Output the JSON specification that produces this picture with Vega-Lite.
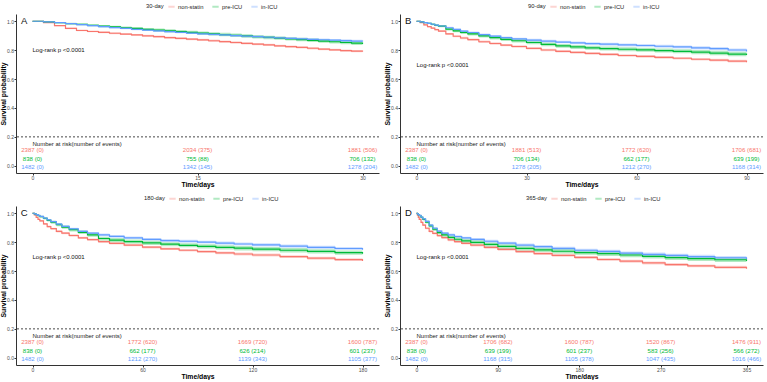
{
  "$schema": "https://vega.github.io/schema/vega-lite/v6.json",
  "padding": {"left": 0, "top": 2, "right": 0, "bottom": 0},
  "background": "white",
  "config": {
    "font": "Liberation Sans",
    "view": {"stroke": null},
    "axis": {
      "grid": false,
      "domainColor": "#333333",
      "domainWidth": 1,
      "tickColor": "#333333",
      "tickSize": 2,
      "labelColor": "#4D4D4D",
      "labelFontSize": 5,
      "labelPadding": 1,
      "labelOverlap": false,
      "titleFontSize": 6.8,
      "titleFontWeight": "bold",
      "titleColor": "#000000"
    },
    "axisX": {"titlePadding": 0.5, "labelPadding": 0.5},
    "axisY": {"titlePadding": 0, "labelPadding": 0.5, "labelFlush": false},
    "legend": {
      "orient": "none",
      "direction": "horizontal",
      "titleOrient": "left",
      "titleFontSize": 5.8,
      "titleFontWeight": "normal",
      "titleColor": "#222222",
      "titlePadding": 3,
      "labelFontSize": 5.8,
      "labelColor": "#222222",
      "labelOffset": 2,
      "symbolType": "stroke",
      "symbolStrokeWidth": 2,
      "symbolSize": 40,
      "columnPadding": 4
    },
    "text": {"font": "Liberation Sans"}
  },
  "datasets": {
    "panels": [
      {"p": "A", "tag": "A", "lr": "Log-rank p <0.0001", "head": "Number at risk(number of events)"},
      {"p": "B", "tag": "B", "lr": "Log-rank p <0.0001", "head": "Number at risk(number of events)"},
      {"p": "C", "tag": "C", "lr": "Log-rank p <0.0001", "head": "Number at risk(number of events)"},
      {"p": "D", "tag": "D", "lr": "Log-rank p <0.0001", "head": "Number at risk(number of events)"}
    ],
    "risk": [
      {"p": "A", "g": "non-statin", "t": 0, "n": "2387 (0)"},
      {"p": "A", "g": "pre-ICU", "t": 0, "n": "838 (0)"},
      {"p": "A", "g": "in-ICU", "t": 0, "n": "1482 (0)"},
      {"p": "A", "g": "non-statin", "t": 15, "n": "2034 (375)"},
      {"p": "A", "g": "pre-ICU", "t": 15, "n": "755 (88)"},
      {"p": "A", "g": "in-ICU", "t": 15, "n": "1342 (145)"},
      {"p": "A", "g": "non-statin", "t": 30, "n": "1881 (506)"},
      {"p": "A", "g": "pre-ICU", "t": 30, "n": "706 (132)"},
      {"p": "A", "g": "in-ICU", "t": 30, "n": "1278 (204)"},
      {"p": "B", "g": "non-statin", "t": 0, "n": "2387 (0)"},
      {"p": "B", "g": "pre-ICU", "t": 0, "n": "838 (0)"},
      {"p": "B", "g": "in-ICU", "t": 0, "n": "1482 (0)"},
      {"p": "B", "g": "non-statin", "t": 30, "n": "1881 (513)"},
      {"p": "B", "g": "pre-ICU", "t": 30, "n": "706 (134)"},
      {"p": "B", "g": "in-ICU", "t": 30, "n": "1278 (205)"},
      {"p": "B", "g": "non-statin", "t": 60, "n": "1772 (620)"},
      {"p": "B", "g": "pre-ICU", "t": 60, "n": "662 (177)"},
      {"p": "B", "g": "in-ICU", "t": 60, "n": "1212 (270)"},
      {"p": "B", "g": "non-statin", "t": 90, "n": "1706 (681)"},
      {"p": "B", "g": "pre-ICU", "t": 90, "n": "639 (199)"},
      {"p": "B", "g": "in-ICU", "t": 90, "n": "1168 (314)"},
      {"p": "C", "g": "non-statin", "t": 0, "n": "2387 (0)"},
      {"p": "C", "g": "pre-ICU", "t": 0, "n": "838 (0)"},
      {"p": "C", "g": "in-ICU", "t": 0, "n": "1482 (0)"},
      {"p": "C", "g": "non-statin", "t": 60, "n": "1772 (620)"},
      {"p": "C", "g": "pre-ICU", "t": 60, "n": "662 (177)"},
      {"p": "C", "g": "in-ICU", "t": 60, "n": "1212 (270)"},
      {"p": "C", "g": "non-statin", "t": 120, "n": "1669 (720)"},
      {"p": "C", "g": "pre-ICU", "t": 120, "n": "626 (214)"},
      {"p": "C", "g": "in-ICU", "t": 120, "n": "1139 (343)"},
      {"p": "C", "g": "non-statin", "t": 180, "n": "1600 (787)"},
      {"p": "C", "g": "pre-ICU", "t": 180, "n": "601 (237)"},
      {"p": "C", "g": "in-ICU", "t": 180, "n": "1105 (377)"},
      {"p": "D", "g": "non-statin", "t": 0, "n": "2387 (0)"},
      {"p": "D", "g": "pre-ICU", "t": 0, "n": "838 (0)"},
      {"p": "D", "g": "in-ICU", "t": 0, "n": "1482 (0)"},
      {"p": "D", "g": "non-statin", "t": 90, "n": "1706 (682)"},
      {"p": "D", "g": "pre-ICU", "t": 90, "n": "639 (199)"},
      {"p": "D", "g": "in-ICU", "t": 90, "n": "1168 (315)"},
      {"p": "D", "g": "non-statin", "t": 180, "n": "1600 (787)"},
      {"p": "D", "g": "pre-ICU", "t": 180, "n": "601 (237)"},
      {"p": "D", "g": "in-ICU", "t": 180, "n": "1105 (378)"},
      {"p": "D", "g": "non-statin", "t": 270, "n": "1520 (867)"},
      {"p": "D", "g": "pre-ICU", "t": 270, "n": "583 (256)"},
      {"p": "D", "g": "in-ICU", "t": 270, "n": "1047 (435)"},
      {"p": "D", "g": "non-statin", "t": 365, "n": "1476 (911)"},
      {"p": "D", "g": "pre-ICU", "t": 365, "n": "566 (272)"},
      {"p": "D", "g": "in-ICU", "t": 365, "n": "1016 (466)"}
    ],
    "km": [
      {"p":"A","g":"non-statin","t":0,"s":1,"lo":1,"hi":1},
      {"p":"A","g":"non-statin","t":1,"s":0.990,"lo":0.987,"hi":0.993},
      {"p":"A","g":"non-statin","t":2,"s":0.970,"lo":0.966,"hi":0.974},
      {"p":"A","g":"non-statin","t":3,"s":0.950,"lo":0.945,"hi":0.955},
      {"p":"A","g":"non-statin","t":4,"s":0.936,"lo":0.930,"hi":0.942},
      {"p":"A","g":"non-statin","t":5,"s":0.929,"lo":0.923,"hi":0.935},
      {"p":"A","g":"non-statin","t":6,"s":0.923,"lo":0.916,"hi":0.930},
      {"p":"A","g":"non-statin","t":7,"s":0.917,"lo":0.910,"hi":0.924},
      {"p":"A","g":"non-statin","t":8,"s":0.911,"lo":0.904,"hi":0.918},
      {"p":"A","g":"non-statin","t":9,"s":0.905,"lo":0.898,"hi":0.912},
      {"p":"A","g":"non-statin","t":10,"s":0.899,"lo":0.892,"hi":0.906},
      {"p":"A","g":"non-statin","t":11,"s":0.893,"lo":0.885,"hi":0.901},
      {"p":"A","g":"non-statin","t":12,"s":0.887,"lo":0.879,"hi":0.895},
      {"p":"A","g":"non-statin","t":13,"s":0.882,"lo":0.874,"hi":0.890},
      {"p":"A","g":"non-statin","t":14,"s":0.876,"lo":0.868,"hi":0.884},
      {"p":"A","g":"non-statin","t":15,"s":0.871,"lo":0.863,"hi":0.879},
      {"p":"A","g":"non-statin","t":16,"s":0.865,"lo":0.857,"hi":0.873},
      {"p":"A","g":"non-statin","t":17,"s":0.859,"lo":0.851,"hi":0.867},
      {"p":"A","g":"non-statin","t":18,"s":0.853,"lo":0.845,"hi":0.861},
      {"p":"A","g":"non-statin","t":19,"s":0.847,"lo":0.839,"hi":0.855},
      {"p":"A","g":"non-statin","t":20,"s":0.842,"lo":0.834,"hi":0.850},
      {"p":"A","g":"non-statin","t":21,"s":0.836,"lo":0.828,"hi":0.844},
      {"p":"A","g":"non-statin","t":22,"s":0.830,"lo":0.822,"hi":0.838},
      {"p":"A","g":"non-statin","t":23,"s":0.824,"lo":0.816,"hi":0.832},
      {"p":"A","g":"non-statin","t":24,"s":0.819,"lo":0.811,"hi":0.827},
      {"p":"A","g":"non-statin","t":25,"s":0.813,"lo":0.805,"hi":0.821},
      {"p":"A","g":"non-statin","t":26,"s":0.807,"lo":0.799,"hi":0.815},
      {"p":"A","g":"non-statin","t":27,"s":0.802,"lo":0.794,"hi":0.810},
      {"p":"A","g":"non-statin","t":28,"s":0.797,"lo":0.789,"hi":0.805},
      {"p":"A","g":"non-statin","t":29,"s":0.793,"lo":0.785,"hi":0.801},
      {"p":"A","g":"non-statin","t":30,"s":0.788,"lo":0.780,"hi":0.796},
      {"p":"A","g":"pre-ICU","t":0,"s":1,"lo":1,"hi":1},
      {"p":"A","g":"pre-ICU","t":1,"s":0.995,"lo":0.992,"hi":0.998},
      {"p":"A","g":"pre-ICU","t":2,"s":0.990,"lo":0.986,"hi":0.994},
      {"p":"A","g":"pre-ICU","t":3,"s":0.984,"lo":0.979,"hi":0.989},
      {"p":"A","g":"pre-ICU","t":4,"s":0.978,"lo":0.972,"hi":0.984},
      {"p":"A","g":"pre-ICU","t":5,"s":0.972,"lo":0.965,"hi":0.979},
      {"p":"A","g":"pre-ICU","t":6,"s":0.966,"lo":0.959,"hi":0.973},
      {"p":"A","g":"pre-ICU","t":7,"s":0.961,"lo":0.953,"hi":0.969},
      {"p":"A","g":"pre-ICU","t":8,"s":0.955,"lo":0.946,"hi":0.964},
      {"p":"A","g":"pre-ICU","t":9,"s":0.950,"lo":0.941,"hi":0.959},
      {"p":"A","g":"pre-ICU","t":10,"s":0.944,"lo":0.934,"hi":0.954},
      {"p":"A","g":"pre-ICU","t":11,"s":0.939,"lo":0.929,"hi":0.949},
      {"p":"A","g":"pre-ICU","t":12,"s":0.934,"lo":0.923,"hi":0.945},
      {"p":"A","g":"pre-ICU","t":13,"s":0.929,"lo":0.918,"hi":0.940},
      {"p":"A","g":"pre-ICU","t":14,"s":0.923,"lo":0.912,"hi":0.934},
      {"p":"A","g":"pre-ICU","t":15,"s":0.918,"lo":0.907,"hi":0.929},
      {"p":"A","g":"pre-ICU","t":16,"s":0.913,"lo":0.902,"hi":0.924},
      {"p":"A","g":"pre-ICU","t":17,"s":0.908,"lo":0.896,"hi":0.920},
      {"p":"A","g":"pre-ICU","t":18,"s":0.903,"lo":0.891,"hi":0.915},
      {"p":"A","g":"pre-ICU","t":19,"s":0.898,"lo":0.886,"hi":0.910},
      {"p":"A","g":"pre-ICU","t":20,"s":0.893,"lo":0.881,"hi":0.905},
      {"p":"A","g":"pre-ICU","t":21,"s":0.888,"lo":0.876,"hi":0.900},
      {"p":"A","g":"pre-ICU","t":22,"s":0.883,"lo":0.871,"hi":0.895},
      {"p":"A","g":"pre-ICU","t":23,"s":0.878,"lo":0.866,"hi":0.890},
      {"p":"A","g":"pre-ICU","t":24,"s":0.873,"lo":0.861,"hi":0.885},
      {"p":"A","g":"pre-ICU","t":25,"s":0.868,"lo":0.856,"hi":0.880},
      {"p":"A","g":"pre-ICU","t":26,"s":0.863,"lo":0.851,"hi":0.875},
      {"p":"A","g":"pre-ICU","t":27,"s":0.858,"lo":0.846,"hi":0.870},
      {"p":"A","g":"pre-ICU","t":28,"s":0.853,"lo":0.841,"hi":0.865},
      {"p":"A","g":"pre-ICU","t":29,"s":0.848,"lo":0.836,"hi":0.860},
      {"p":"A","g":"pre-ICU","t":30,"s":0.843,"lo":0.831,"hi":0.855},
      {"p":"A","g":"in-ICU","t":0,"s":1,"lo":1,"hi":1},
      {"p":"A","g":"in-ICU","t":1,"s":0.996,"lo":0.994,"hi":0.998},
      {"p":"A","g":"in-ICU","t":2,"s":0.990,"lo":0.987,"hi":0.993},
      {"p":"A","g":"in-ICU","t":3,"s":0.983,"lo":0.979,"hi":0.987},
      {"p":"A","g":"in-ICU","t":4,"s":0.976,"lo":0.971,"hi":0.981},
      {"p":"A","g":"in-ICU","t":5,"s":0.969,"lo":0.964,"hi":0.974},
      {"p":"A","g":"in-ICU","t":6,"s":0.962,"lo":0.956,"hi":0.968},
      {"p":"A","g":"in-ICU","t":7,"s":0.956,"lo":0.950,"hi":0.962},
      {"p":"A","g":"in-ICU","t":8,"s":0.950,"lo":0.944,"hi":0.956},
      {"p":"A","g":"in-ICU","t":9,"s":0.944,"lo":0.938,"hi":0.950},
      {"p":"A","g":"in-ICU","t":10,"s":0.938,"lo":0.932,"hi":0.944},
      {"p":"A","g":"in-ICU","t":11,"s":0.933,"lo":0.926,"hi":0.940},
      {"p":"A","g":"in-ICU","t":12,"s":0.928,"lo":0.921,"hi":0.935},
      {"p":"A","g":"in-ICU","t":13,"s":0.923,"lo":0.916,"hi":0.930},
      {"p":"A","g":"in-ICU","t":14,"s":0.918,"lo":0.911,"hi":0.925},
      {"p":"A","g":"in-ICU","t":15,"s":0.913,"lo":0.906,"hi":0.920},
      {"p":"A","g":"in-ICU","t":16,"s":0.909,"lo":0.902,"hi":0.916},
      {"p":"A","g":"in-ICU","t":17,"s":0.905,"lo":0.898,"hi":0.912},
      {"p":"A","g":"in-ICU","t":18,"s":0.901,"lo":0.893,"hi":0.909},
      {"p":"A","g":"in-ICU","t":19,"s":0.897,"lo":0.889,"hi":0.905},
      {"p":"A","g":"in-ICU","t":20,"s":0.893,"lo":0.885,"hi":0.901},
      {"p":"A","g":"in-ICU","t":21,"s":0.889,"lo":0.881,"hi":0.897},
      {"p":"A","g":"in-ICU","t":22,"s":0.885,"lo":0.877,"hi":0.893},
      {"p":"A","g":"in-ICU","t":23,"s":0.881,"lo":0.873,"hi":0.889},
      {"p":"A","g":"in-ICU","t":24,"s":0.878,"lo":0.870,"hi":0.886},
      {"p":"A","g":"in-ICU","t":25,"s":0.875,"lo":0.867,"hi":0.883},
      {"p":"A","g":"in-ICU","t":26,"s":0.872,"lo":0.864,"hi":0.880},
      {"p":"A","g":"in-ICU","t":27,"s":0.869,"lo":0.861,"hi":0.877},
      {"p":"A","g":"in-ICU","t":28,"s":0.866,"lo":0.857,"hi":0.875},
      {"p":"A","g":"in-ICU","t":29,"s":0.863,"lo":0.854,"hi":0.872},
      {"p":"A","g":"in-ICU","t":30,"s":0.860,"lo":0.851,"hi":0.869},

      {"p":"B","g":"non-statin","t":0,"s":1,"lo":1,"hi":1},
      {"p":"B","g":"non-statin","t":1,"s":0.990,"lo":0.987,"hi":0.993},
      {"p":"B","g":"non-statin","t":2,"s":0.975,"lo":0.971,"hi":0.979},
      {"p":"B","g":"non-statin","t":3,"s":0.962,"lo":0.957,"hi":0.967},
      {"p":"B","g":"non-statin","t":4,"s":0.952,"lo":0.946,"hi":0.958},
      {"p":"B","g":"non-statin","t":5,"s":0.942,"lo":0.936,"hi":0.948},
      {"p":"B","g":"non-statin","t":6,"s":0.932,"lo":0.925,"hi":0.939},
      {"p":"B","g":"non-statin","t":8,"s":0.912,"lo":0.905,"hi":0.919},
      {"p":"B","g":"non-statin","t":10,"s":0.896,"lo":0.889,"hi":0.903},
      {"p":"B","g":"non-statin","t":12,"s":0.884,"lo":0.876,"hi":0.892},
      {"p":"B","g":"non-statin","t":14,"s":0.873,"lo":0.865,"hi":0.881},
      {"p":"B","g":"non-statin","t":17,"s":0.858,"lo":0.850,"hi":0.866},
      {"p":"B","g":"non-statin","t":20,"s":0.846,"lo":0.838,"hi":0.854},
      {"p":"B","g":"non-statin","t":23,"s":0.835,"lo":0.827,"hi":0.843},
      {"p":"B","g":"non-statin","t":26,"s":0.825,"lo":0.817,"hi":0.833},
      {"p":"B","g":"non-statin","t":30,"s":0.812,"lo":0.804,"hi":0.820},
      {"p":"B","g":"non-statin","t":34,"s":0.801,"lo":0.792,"hi":0.810},
      {"p":"B","g":"non-statin","t":38,"s":0.792,"lo":0.783,"hi":0.801},
      {"p":"B","g":"non-statin","t":42,"s":0.784,"lo":0.775,"hi":0.793},
      {"p":"B","g":"non-statin","t":46,"s":0.777,"lo":0.768,"hi":0.786},
      {"p":"B","g":"non-statin","t":50,"s":0.771,"lo":0.762,"hi":0.780},
      {"p":"B","g":"non-statin","t":55,"s":0.763,"lo":0.754,"hi":0.772},
      {"p":"B","g":"non-statin","t":60,"s":0.757,"lo":0.748,"hi":0.766},
      {"p":"B","g":"non-statin","t":65,"s":0.750,"lo":0.741,"hi":0.759},
      {"p":"B","g":"non-statin","t":70,"s":0.744,"lo":0.735,"hi":0.753},
      {"p":"B","g":"non-statin","t":75,"s":0.737,"lo":0.728,"hi":0.746},
      {"p":"B","g":"non-statin","t":80,"s":0.731,"lo":0.722,"hi":0.740},
      {"p":"B","g":"non-statin","t":85,"s":0.724,"lo":0.715,"hi":0.733},
      {"p":"B","g":"non-statin","t":90,"s":0.717,"lo":0.708,"hi":0.726},
      {"p":"B","g":"pre-ICU","t":0,"s":1,"lo":1,"hi":1},
      {"p":"B","g":"pre-ICU","t":1,"s":0.996,"lo":0.993,"hi":0.999},
      {"p":"B","g":"pre-ICU","t":2,"s":0.991,"lo":0.987,"hi":0.995},
      {"p":"B","g":"pre-ICU","t":3,"s":0.985,"lo":0.980,"hi":0.990},
      {"p":"B","g":"pre-ICU","t":4,"s":0.979,"lo":0.973,"hi":0.985},
      {"p":"B","g":"pre-ICU","t":5,"s":0.972,"lo":0.965,"hi":0.979},
      {"p":"B","g":"pre-ICU","t":6,"s":0.966,"lo":0.959,"hi":0.973},
      {"p":"B","g":"pre-ICU","t":8,"s":0.945,"lo":0.936,"hi":0.954},
      {"p":"B","g":"pre-ICU","t":10,"s":0.933,"lo":0.923,"hi":0.943},
      {"p":"B","g":"pre-ICU","t":12,"s":0.922,"lo":0.911,"hi":0.933},
      {"p":"B","g":"pre-ICU","t":14,"s":0.912,"lo":0.901,"hi":0.923},
      {"p":"B","g":"pre-ICU","t":17,"s":0.898,"lo":0.887,"hi":0.909},
      {"p":"B","g":"pre-ICU","t":20,"s":0.886,"lo":0.874,"hi":0.898},
      {"p":"B","g":"pre-ICU","t":23,"s":0.875,"lo":0.863,"hi":0.887},
      {"p":"B","g":"pre-ICU","t":26,"s":0.865,"lo":0.853,"hi":0.877},
      {"p":"B","g":"pre-ICU","t":30,"s":0.853,"lo":0.840,"hi":0.866},
      {"p":"B","g":"pre-ICU","t":34,"s":0.840,"lo":0.827,"hi":0.853},
      {"p":"B","g":"pre-ICU","t":38,"s":0.829,"lo":0.816,"hi":0.842},
      {"p":"B","g":"pre-ICU","t":42,"s":0.822,"lo":0.808,"hi":0.836},
      {"p":"B","g":"pre-ICU","t":46,"s":0.816,"lo":0.802,"hi":0.830},
      {"p":"B","g":"pre-ICU","t":50,"s":0.811,"lo":0.797,"hi":0.825},
      {"p":"B","g":"pre-ICU","t":55,"s":0.806,"lo":0.792,"hi":0.820},
      {"p":"B","g":"pre-ICU","t":60,"s":0.802,"lo":0.788,"hi":0.816},
      {"p":"B","g":"pre-ICU","t":65,"s":0.797,"lo":0.783,"hi":0.811},
      {"p":"B","g":"pre-ICU","t":70,"s":0.792,"lo":0.778,"hi":0.806},
      {"p":"B","g":"pre-ICU","t":75,"s":0.786,"lo":0.771,"hi":0.801},
      {"p":"B","g":"pre-ICU","t":80,"s":0.780,"lo":0.765,"hi":0.795},
      {"p":"B","g":"pre-ICU","t":85,"s":0.773,"lo":0.758,"hi":0.788},
      {"p":"B","g":"pre-ICU","t":90,"s":0.766,"lo":0.751,"hi":0.781},
      {"p":"B","g":"in-ICU","t":0,"s":1,"lo":1,"hi":1},
      {"p":"B","g":"in-ICU","t":1,"s":0.996,"lo":0.994,"hi":0.998},
      {"p":"B","g":"in-ICU","t":2,"s":0.991,"lo":0.988,"hi":0.994},
      {"p":"B","g":"in-ICU","t":3,"s":0.985,"lo":0.981,"hi":0.989},
      {"p":"B","g":"in-ICU","t":4,"s":0.979,"lo":0.974,"hi":0.984},
      {"p":"B","g":"in-ICU","t":5,"s":0.973,"lo":0.968,"hi":0.978},
      {"p":"B","g":"in-ICU","t":6,"s":0.967,"lo":0.961,"hi":0.973},
      {"p":"B","g":"in-ICU","t":8,"s":0.955,"lo":0.949,"hi":0.961},
      {"p":"B","g":"in-ICU","t":10,"s":0.943,"lo":0.937,"hi":0.949},
      {"p":"B","g":"in-ICU","t":12,"s":0.932,"lo":0.925,"hi":0.939},
      {"p":"B","g":"in-ICU","t":14,"s":0.922,"lo":0.915,"hi":0.929},
      {"p":"B","g":"in-ICU","t":17,"s":0.908,"lo":0.901,"hi":0.915},
      {"p":"B","g":"in-ICU","t":20,"s":0.897,"lo":0.889,"hi":0.905},
      {"p":"B","g":"in-ICU","t":23,"s":0.887,"lo":0.879,"hi":0.895},
      {"p":"B","g":"in-ICU","t":26,"s":0.878,"lo":0.870,"hi":0.886},
      {"p":"B","g":"in-ICU","t":30,"s":0.869,"lo":0.860,"hi":0.878},
      {"p":"B","g":"in-ICU","t":34,"s":0.862,"lo":0.853,"hi":0.871},
      {"p":"B","g":"in-ICU","t":38,"s":0.856,"lo":0.847,"hi":0.865},
      {"p":"B","g":"in-ICU","t":42,"s":0.850,"lo":0.841,"hi":0.859},
      {"p":"B","g":"in-ICU","t":46,"s":0.845,"lo":0.836,"hi":0.854},
      {"p":"B","g":"in-ICU","t":50,"s":0.841,"lo":0.831,"hi":0.851},
      {"p":"B","g":"in-ICU","t":55,"s":0.836,"lo":0.826,"hi":0.846},
      {"p":"B","g":"in-ICU","t":60,"s":0.832,"lo":0.822,"hi":0.842},
      {"p":"B","g":"in-ICU","t":65,"s":0.827,"lo":0.817,"hi":0.837},
      {"p":"B","g":"in-ICU","t":70,"s":0.822,"lo":0.812,"hi":0.832},
      {"p":"B","g":"in-ICU","t":75,"s":0.816,"lo":0.805,"hi":0.827},
      {"p":"B","g":"in-ICU","t":80,"s":0.810,"lo":0.799,"hi":0.821},
      {"p":"B","g":"in-ICU","t":85,"s":0.801,"lo":0.790,"hi":0.812},
      {"p":"B","g":"in-ICU","t":90,"s":0.791,"lo":0.780,"hi":0.802},

      {"p":"C","g":"non-statin","t":0,"s":1,"lo":1,"hi":1},
      {"p":"C","g":"non-statin","t":1,"s":0.988,"lo":0.985,"hi":0.991},
      {"p":"C","g":"non-statin","t":2,"s":0.972,"lo":0.968,"hi":0.976},
      {"p":"C","g":"non-statin","t":3,"s":0.958,"lo":0.953,"hi":0.963},
      {"p":"C","g":"non-statin","t":4,"s":0.947,"lo":0.941,"hi":0.953},
      {"p":"C","g":"non-statin","t":6,"s":0.926,"lo":0.919,"hi":0.933},
      {"p":"C","g":"non-statin","t":8,"s":0.908,"lo":0.901,"hi":0.915},
      {"p":"C","g":"non-statin","t":10,"s":0.893,"lo":0.886,"hi":0.900},
      {"p":"C","g":"non-statin","t":13,"s":0.874,"lo":0.866,"hi":0.882},
      {"p":"C","g":"non-statin","t":16,"s":0.862,"lo":0.854,"hi":0.870},
      {"p":"C","g":"non-statin","t":20,"s":0.846,"lo":0.838,"hi":0.854},
      {"p":"C","g":"non-statin","t":25,"s":0.830,"lo":0.822,"hi":0.838},
      {"p":"C","g":"non-statin","t":30,"s":0.817,"lo":0.809,"hi":0.825},
      {"p":"C","g":"non-statin","t":36,"s":0.803,"lo":0.794,"hi":0.812},
      {"p":"C","g":"non-statin","t":42,"s":0.792,"lo":0.783,"hi":0.801},
      {"p":"C","g":"non-statin","t":50,"s":0.780,"lo":0.771,"hi":0.789},
      {"p":"C","g":"non-statin","t":60,"s":0.765,"lo":0.756,"hi":0.774},
      {"p":"C","g":"non-statin","t":70,"s":0.754,"lo":0.745,"hi":0.763},
      {"p":"C","g":"non-statin","t":80,"s":0.744,"lo":0.735,"hi":0.753},
      {"p":"C","g":"non-statin","t":90,"s":0.735,"lo":0.726,"hi":0.744},
      {"p":"C","g":"non-statin","t":100,"s":0.726,"lo":0.716,"hi":0.736},
      {"p":"C","g":"non-statin","t":110,"s":0.718,"lo":0.708,"hi":0.728},
      {"p":"C","g":"non-statin","t":120,"s":0.711,"lo":0.701,"hi":0.721},
      {"p":"C","g":"non-statin","t":135,"s":0.700,"lo":0.690,"hi":0.710},
      {"p":"C","g":"non-statin","t":150,"s":0.689,"lo":0.679,"hi":0.699},
      {"p":"C","g":"non-statin","t":165,"s":0.679,"lo":0.669,"hi":0.689},
      {"p":"C","g":"non-statin","t":180,"s":0.669,"lo":0.659,"hi":0.679},
      {"p":"C","g":"pre-ICU","t":0,"s":1,"lo":1,"hi":1},
      {"p":"C","g":"pre-ICU","t":1,"s":0.996,"lo":0.993,"hi":0.999},
      {"p":"C","g":"pre-ICU","t":2,"s":0.990,"lo":0.986,"hi":0.994},
      {"p":"C","g":"pre-ICU","t":3,"s":0.984,"lo":0.979,"hi":0.989},
      {"p":"C","g":"pre-ICU","t":4,"s":0.977,"lo":0.971,"hi":0.983},
      {"p":"C","g":"pre-ICU","t":6,"s":0.964,"lo":0.957,"hi":0.971},
      {"p":"C","g":"pre-ICU","t":8,"s":0.951,"lo":0.942,"hi":0.960},
      {"p":"C","g":"pre-ICU","t":10,"s":0.938,"lo":0.928,"hi":0.948},
      {"p":"C","g":"pre-ICU","t":13,"s":0.921,"lo":0.910,"hi":0.932},
      {"p":"C","g":"pre-ICU","t":16,"s":0.904,"lo":0.893,"hi":0.915},
      {"p":"C","g":"pre-ICU","t":20,"s":0.886,"lo":0.874,"hi":0.898},
      {"p":"C","g":"pre-ICU","t":25,"s":0.868,"lo":0.856,"hi":0.880},
      {"p":"C","g":"pre-ICU","t":30,"s":0.850,"lo":0.837,"hi":0.863},
      {"p":"C","g":"pre-ICU","t":36,"s":0.825,"lo":0.812,"hi":0.838},
      {"p":"C","g":"pre-ICU","t":42,"s":0.814,"lo":0.800,"hi":0.828},
      {"p":"C","g":"pre-ICU","t":50,"s":0.804,"lo":0.790,"hi":0.818},
      {"p":"C","g":"pre-ICU","t":60,"s":0.795,"lo":0.781,"hi":0.809},
      {"p":"C","g":"pre-ICU","t":70,"s":0.786,"lo":0.772,"hi":0.800},
      {"p":"C","g":"pre-ICU","t":80,"s":0.778,"lo":0.764,"hi":0.792},
      {"p":"C","g":"pre-ICU","t":90,"s":0.771,"lo":0.756,"hi":0.786},
      {"p":"C","g":"pre-ICU","t":100,"s":0.764,"lo":0.749,"hi":0.779},
      {"p":"C","g":"pre-ICU","t":110,"s":0.758,"lo":0.743,"hi":0.773},
      {"p":"C","g":"pre-ICU","t":120,"s":0.752,"lo":0.737,"hi":0.767},
      {"p":"C","g":"pre-ICU","t":135,"s":0.744,"lo":0.729,"hi":0.759},
      {"p":"C","g":"pre-ICU","t":150,"s":0.736,"lo":0.721,"hi":0.751},
      {"p":"C","g":"pre-ICU","t":165,"s":0.728,"lo":0.713,"hi":0.743},
      {"p":"C","g":"pre-ICU","t":180,"s":0.720,"lo":0.705,"hi":0.735},
      {"p":"C","g":"in-ICU","t":0,"s":1,"lo":1,"hi":1},
      {"p":"C","g":"in-ICU","t":1,"s":0.996,"lo":0.994,"hi":0.998},
      {"p":"C","g":"in-ICU","t":2,"s":0.991,"lo":0.988,"hi":0.994},
      {"p":"C","g":"in-ICU","t":3,"s":0.985,"lo":0.981,"hi":0.989},
      {"p":"C","g":"in-ICU","t":4,"s":0.978,"lo":0.973,"hi":0.983},
      {"p":"C","g":"in-ICU","t":6,"s":0.966,"lo":0.960,"hi":0.972},
      {"p":"C","g":"in-ICU","t":8,"s":0.954,"lo":0.948,"hi":0.960},
      {"p":"C","g":"in-ICU","t":10,"s":0.942,"lo":0.936,"hi":0.948},
      {"p":"C","g":"in-ICU","t":13,"s":0.925,"lo":0.918,"hi":0.932},
      {"p":"C","g":"in-ICU","t":16,"s":0.909,"lo":0.902,"hi":0.916},
      {"p":"C","g":"in-ICU","t":20,"s":0.892,"lo":0.884,"hi":0.900},
      {"p":"C","g":"in-ICU","t":25,"s":0.875,"lo":0.867,"hi":0.883},
      {"p":"C","g":"in-ICU","t":30,"s":0.862,"lo":0.854,"hi":0.870},
      {"p":"C","g":"in-ICU","t":36,"s":0.850,"lo":0.841,"hi":0.859},
      {"p":"C","g":"in-ICU","t":42,"s":0.840,"lo":0.831,"hi":0.849},
      {"p":"C","g":"in-ICU","t":50,"s":0.830,"lo":0.821,"hi":0.839},
      {"p":"C","g":"in-ICU","t":60,"s":0.819,"lo":0.809,"hi":0.829},
      {"p":"C","g":"in-ICU","t":70,"s":0.811,"lo":0.801,"hi":0.821},
      {"p":"C","g":"in-ICU","t":80,"s":0.806,"lo":0.796,"hi":0.816},
      {"p":"C","g":"in-ICU","t":90,"s":0.800,"lo":0.790,"hi":0.810},
      {"p":"C","g":"in-ICU","t":100,"s":0.793,"lo":0.782,"hi":0.804},
      {"p":"C","g":"in-ICU","t":110,"s":0.787,"lo":0.776,"hi":0.798},
      {"p":"C","g":"in-ICU","t":120,"s":0.781,"lo":0.770,"hi":0.792},
      {"p":"C","g":"in-ICU","t":135,"s":0.772,"lo":0.761,"hi":0.783},
      {"p":"C","g":"in-ICU","t":150,"s":0.764,"lo":0.753,"hi":0.775},
      {"p":"C","g":"in-ICU","t":165,"s":0.756,"lo":0.745,"hi":0.767},
      {"p":"C","g":"in-ICU","t":180,"s":0.748,"lo":0.737,"hi":0.759},

      {"p":"D","g":"non-statin","t":0,"s":1,"lo":1,"hi":1},
      {"p":"D","g":"non-statin","t":1,"s":0.987,"lo":0.984,"hi":0.990},
      {"p":"D","g":"non-statin","t":2,"s":0.972,"lo":0.968,"hi":0.976},
      {"p":"D","g":"non-statin","t":3,"s":0.958,"lo":0.953,"hi":0.963},
      {"p":"D","g":"non-statin","t":5,"s":0.937,"lo":0.931,"hi":0.943},
      {"p":"D","g":"non-statin","t":7,"s":0.918,"lo":0.911,"hi":0.925},
      {"p":"D","g":"non-statin","t":10,"s":0.896,"lo":0.889,"hi":0.903},
      {"p":"D","g":"non-statin","t":14,"s":0.874,"lo":0.866,"hi":0.882},
      {"p":"D","g":"non-statin","t":18,"s":0.861,"lo":0.853,"hi":0.869},
      {"p":"D","g":"non-statin","t":23,"s":0.845,"lo":0.837,"hi":0.853},
      {"p":"D","g":"non-statin","t":28,"s":0.831,"lo":0.823,"hi":0.839},
      {"p":"D","g":"non-statin","t":35,"s":0.815,"lo":0.806,"hi":0.824},
      {"p":"D","g":"non-statin","t":42,"s":0.803,"lo":0.794,"hi":0.812},
      {"p":"D","g":"non-statin","t":50,"s":0.792,"lo":0.783,"hi":0.801},
      {"p":"D","g":"non-statin","t":60,"s":0.779,"lo":0.770,"hi":0.788},
      {"p":"D","g":"non-statin","t":75,"s":0.764,"lo":0.755,"hi":0.773},
      {"p":"D","g":"non-statin","t":90,"s":0.750,"lo":0.741,"hi":0.759},
      {"p":"D","g":"non-statin","t":110,"s":0.735,"lo":0.725,"hi":0.745},
      {"p":"D","g":"non-statin","t":130,"s":0.721,"lo":0.711,"hi":0.731},
      {"p":"D","g":"non-statin","t":150,"s":0.709,"lo":0.699,"hi":0.719},
      {"p":"D","g":"non-statin","t":175,"s":0.694,"lo":0.684,"hi":0.704},
      {"p":"D","g":"non-statin","t":200,"s":0.680,"lo":0.670,"hi":0.690},
      {"p":"D","g":"non-statin","t":225,"s":0.668,"lo":0.658,"hi":0.678},
      {"p":"D","g":"non-statin","t":250,"s":0.656,"lo":0.646,"hi":0.666},
      {"p":"D","g":"non-statin","t":275,"s":0.645,"lo":0.635,"hi":0.655},
      {"p":"D","g":"non-statin","t":300,"s":0.636,"lo":0.626,"hi":0.646},
      {"p":"D","g":"non-statin","t":330,"s":0.626,"lo":0.616,"hi":0.636},
      {"p":"D","g":"non-statin","t":365,"s":0.616,"lo":0.606,"hi":0.626},
      {"p":"D","g":"pre-ICU","t":0,"s":1,"lo":1,"hi":1},
      {"p":"D","g":"pre-ICU","t":1,"s":0.996,"lo":0.993,"hi":0.999},
      {"p":"D","g":"pre-ICU","t":2,"s":0.990,"lo":0.986,"hi":0.994},
      {"p":"D","g":"pre-ICU","t":3,"s":0.984,"lo":0.979,"hi":0.989},
      {"p":"D","g":"pre-ICU","t":5,"s":0.971,"lo":0.964,"hi":0.978},
      {"p":"D","g":"pre-ICU","t":7,"s":0.958,"lo":0.950,"hi":0.966},
      {"p":"D","g":"pre-ICU","t":10,"s":0.939,"lo":0.929,"hi":0.949},
      {"p":"D","g":"pre-ICU","t":14,"s":0.912,"lo":0.901,"hi":0.923},
      {"p":"D","g":"pre-ICU","t":18,"s":0.889,"lo":0.877,"hi":0.901},
      {"p":"D","g":"pre-ICU","t":23,"s":0.866,"lo":0.854,"hi":0.878},
      {"p":"D","g":"pre-ICU","t":28,"s":0.850,"lo":0.837,"hi":0.863},
      {"p":"D","g":"pre-ICU","t":35,"s":0.833,"lo":0.820,"hi":0.846},
      {"p":"D","g":"pre-ICU","t":42,"s":0.820,"lo":0.806,"hi":0.834},
      {"p":"D","g":"pre-ICU","t":50,"s":0.809,"lo":0.795,"hi":0.823},
      {"p":"D","g":"pre-ICU","t":60,"s":0.799,"lo":0.785,"hi":0.813},
      {"p":"D","g":"pre-ICU","t":75,"s":0.784,"lo":0.770,"hi":0.798},
      {"p":"D","g":"pre-ICU","t":90,"s":0.770,"lo":0.755,"hi":0.785},
      {"p":"D","g":"pre-ICU","t":110,"s":0.757,"lo":0.742,"hi":0.772},
      {"p":"D","g":"pre-ICU","t":130,"s":0.746,"lo":0.731,"hi":0.761},
      {"p":"D","g":"pre-ICU","t":150,"s":0.737,"lo":0.722,"hi":0.752},
      {"p":"D","g":"pre-ICU","t":175,"s":0.727,"lo":0.712,"hi":0.742},
      {"p":"D","g":"pre-ICU","t":200,"s":0.720,"lo":0.704,"hi":0.736},
      {"p":"D","g":"pre-ICU","t":225,"s":0.711,"lo":0.695,"hi":0.727},
      {"p":"D","g":"pre-ICU","t":250,"s":0.702,"lo":0.686,"hi":0.718},
      {"p":"D","g":"pre-ICU","t":275,"s":0.693,"lo":0.677,"hi":0.709},
      {"p":"D","g":"pre-ICU","t":300,"s":0.686,"lo":0.670,"hi":0.702},
      {"p":"D","g":"pre-ICU","t":330,"s":0.678,"lo":0.662,"hi":0.694},
      {"p":"D","g":"pre-ICU","t":365,"s":0.669,"lo":0.653,"hi":0.685},
      {"p":"D","g":"in-ICU","t":0,"s":1,"lo":1,"hi":1},
      {"p":"D","g":"in-ICU","t":1,"s":0.996,"lo":0.994,"hi":0.998},
      {"p":"D","g":"in-ICU","t":2,"s":0.991,"lo":0.988,"hi":0.994},
      {"p":"D","g":"in-ICU","t":3,"s":0.985,"lo":0.981,"hi":0.989},
      {"p":"D","g":"in-ICU","t":5,"s":0.973,"lo":0.968,"hi":0.978},
      {"p":"D","g":"in-ICU","t":7,"s":0.961,"lo":0.955,"hi":0.967},
      {"p":"D","g":"in-ICU","t":10,"s":0.943,"lo":0.937,"hi":0.949},
      {"p":"D","g":"in-ICU","t":14,"s":0.918,"lo":0.911,"hi":0.925},
      {"p":"D","g":"in-ICU","t":18,"s":0.896,"lo":0.889,"hi":0.903},
      {"p":"D","g":"in-ICU","t":23,"s":0.876,"lo":0.868,"hi":0.884},
      {"p":"D","g":"in-ICU","t":28,"s":0.862,"lo":0.854,"hi":0.870},
      {"p":"D","g":"in-ICU","t":35,"s":0.850,"lo":0.841,"hi":0.859},
      {"p":"D","g":"in-ICU","t":42,"s":0.839,"lo":0.830,"hi":0.848},
      {"p":"D","g":"in-ICU","t":50,"s":0.829,"lo":0.820,"hi":0.838},
      {"p":"D","g":"in-ICU","t":60,"s":0.819,"lo":0.809,"hi":0.829},
      {"p":"D","g":"in-ICU","t":75,"s":0.806,"lo":0.796,"hi":0.816},
      {"p":"D","g":"in-ICU","t":90,"s":0.793,"lo":0.783,"hi":0.803},
      {"p":"D","g":"in-ICU","t":110,"s":0.780,"lo":0.769,"hi":0.791},
      {"p":"D","g":"in-ICU","t":130,"s":0.769,"lo":0.758,"hi":0.780},
      {"p":"D","g":"in-ICU","t":150,"s":0.757,"lo":0.746,"hi":0.768},
      {"p":"D","g":"in-ICU","t":175,"s":0.744,"lo":0.733,"hi":0.755},
      {"p":"D","g":"in-ICU","t":200,"s":0.736,"lo":0.724,"hi":0.748},
      {"p":"D","g":"in-ICU","t":225,"s":0.724,"lo":0.712,"hi":0.736},
      {"p":"D","g":"in-ICU","t":250,"s":0.716,"lo":0.704,"hi":0.728},
      {"p":"D","g":"in-ICU","t":275,"s":0.708,"lo":0.696,"hi":0.720},
      {"p":"D","g":"in-ICU","t":300,"s":0.700,"lo":0.688,"hi":0.712},
      {"p":"D","g":"in-ICU","t":330,"s":0.692,"lo":0.680,"hi":0.704},
      {"p":"D","g":"in-ICU","t":365,"s":0.683,"lo":0.671,"hi":0.695}
    ]
  },
  "columns": 2,
  "spacing": {"column": 4, "row": 6},
  "resolve": {"scale": {"x": "independent"}, "legend": {"color": "independent"}},
  "concat": [
    {
      "width": 363, "height": 159,
      "layer": [
        {"data": {"name": "km"}, "transform": [{"filter": "datum.p == 'A'"}],
         "mark": {"type": "area", "interpolate": "step-after", "opacity": 0.3},
         "encoding": {
           "x": {"field": "t", "type": "quantitative", "scale": {"domain": [-1.5, 31.5], "nice": false, "zero": false}, "axis": {"values": [0, 15, 30], "title": "Time/days"}},
           "y": {"field": "lo", "type": "quantitative", "scale": {"domain": [-0.05, 1.05], "nice": false, "zero": false}, "axis": {"values": [0, 0.2, 0.4, 0.6, 0.8, 1], "tickCount": 6, "labelOverlap": false, "format": ".1f", "title": "Survival probability"}},
           "y2": {"field": "hi"},
           "color": {"field": "g", "type": "nominal", "title": "30-day", "scale": {"domain": ["non-statin", "pre-ICU", "in-ICU"], "range": ["#F8766D", "#00BA38", "#619CFF"]}, "legend": {"legendX": 130, "legendY": -12}}
         }},
        {"data": {"name": "km"}, "transform": [{"filter": "datum.p == 'A'"}],
         "mark": {"type": "line", "interpolate": "step-after", "strokeWidth": 1.2},
         "encoding": {
           "x": {"field": "t", "type": "quantitative"},
           "y": {"field": "s", "type": "quantitative"},
           "color": {"field": "g", "type": "nominal", "title": "30-day"}
         }},
        {"data": {"name": "panels"}, "transform": [{"filter": "datum.p == 'A'"}],
         "mark": {"type": "rule", "strokeDash": [2, 2], "color": "#333333", "strokeWidth": 0.9},
         "encoding": {"y": {"datum": 0.2}}},
        {"data": {"name": "panels"}, "transform": [{"filter": "datum.p == 'A'"}],
         "mark": {"type": "text", "align": "left", "baseline": "middle", "fontSize": 6, "color": "#222222"},
         "encoding": {"x": {"datum": 0}, "y": {"datum": 0.148}, "text": {"field": "head"}}},
        {"data": {"name": "risk"}, "transform": [{"filter": "datum.p == 'A' && datum.g == 'non-statin'"}],
         "mark": {"type": "text", "align": "center", "baseline": "middle", "fontSize": 6.1},
         "encoding": {"x": {"field": "t", "type": "quantitative"}, "y": {"datum": 0.106}, "text": {"field": "n"}, "color": {"field": "g", "type": "nominal", "title": "30-day"}}},
        {"data": {"name": "risk"}, "transform": [{"filter": "datum.p == 'A' && datum.g == 'pre-ICU'"}],
         "mark": {"type": "text", "align": "center", "baseline": "middle", "fontSize": 6.1},
         "encoding": {"x": {"field": "t", "type": "quantitative"}, "y": {"datum": 0.048}, "text": {"field": "n"}, "color": {"field": "g", "type": "nominal", "title": "30-day"}}},
        {"data": {"name": "risk"}, "transform": [{"filter": "datum.p == 'A' && datum.g == 'in-ICU'"}],
         "mark": {"type": "text", "align": "center", "baseline": "middle", "fontSize": 6.1},
         "encoding": {"x": {"field": "t", "type": "quantitative"}, "y": {"datum": -0.01}, "text": {"field": "n"}, "color": {"field": "g", "type": "nominal", "title": "30-day"}}},
        {"data": {"name": "panels"}, "transform": [{"filter": "datum.p == 'A'"}],
         "mark": {"type": "text", "align": "center", "baseline": "middle", "fontSize": 9.5, "color": "#111111"},
         "encoding": {"x": {"datum": -0.75}, "y": {"datum": 1.0}, "text": {"field": "tag"}}},
        {"data": {"name": "panels"}, "transform": [{"filter": "datum.p == 'A'"}],
         "mark": {"type": "text", "align": "left", "baseline": "middle", "fontSize": 6, "color": "#111111"},
         "encoding": {"x": {"datum": 0}, "y": {"datum": 0.8}, "text": {"field": "lr"}}}
      ]
    },
    {
      "width": 363, "height": 159,
      "layer": [
        {"data": {"name": "km"}, "transform": [{"filter": "datum.p == 'B'"}],
         "mark": {"type": "area", "interpolate": "step-after", "opacity": 0.3},
         "encoding": {
           "x": {"field": "t", "type": "quantitative", "scale": {"domain": [-4.5, 94.5], "nice": false, "zero": false}, "axis": {"values": [0, 30, 60, 90], "title": "Time/days"}},
           "y": {"field": "lo", "type": "quantitative", "scale": {"domain": [-0.05, 1.05], "nice": false, "zero": false}, "axis": {"values": [0, 0.2, 0.4, 0.6, 0.8, 1], "tickCount": 6, "labelOverlap": false, "format": ".1f", "title": "Survival probability"}},
           "y2": {"field": "hi"},
           "color": {"field": "g", "type": "nominal", "title": "90-day", "legend": {"legendX": 128, "legendY": -12}}
         }},
        {"data": {"name": "km"}, "transform": [{"filter": "datum.p == 'B'"}],
         "mark": {"type": "line", "interpolate": "step-after", "strokeWidth": 1.2},
         "encoding": {
           "x": {"field": "t", "type": "quantitative"},
           "y": {"field": "s", "type": "quantitative"},
           "color": {"field": "g", "type": "nominal", "title": "90-day"}
         }},
        {"data": {"name": "panels"}, "transform": [{"filter": "datum.p == 'B'"}],
         "mark": {"type": "rule", "strokeDash": [2, 2], "color": "#333333", "strokeWidth": 0.9},
         "encoding": {"y": {"datum": 0.2}}},
        {"data": {"name": "panels"}, "transform": [{"filter": "datum.p == 'B'"}],
         "mark": {"type": "text", "align": "left", "baseline": "middle", "fontSize": 6, "color": "#222222"},
         "encoding": {"x": {"datum": 0}, "y": {"datum": 0.148}, "text": {"field": "head"}}},
        {"data": {"name": "risk"}, "transform": [{"filter": "datum.p == 'B' && datum.g == 'non-statin'"}],
         "mark": {"type": "text", "align": "center", "baseline": "middle", "fontSize": 6.1},
         "encoding": {"x": {"field": "t", "type": "quantitative"}, "y": {"datum": 0.106}, "text": {"field": "n"}, "color": {"field": "g", "type": "nominal", "title": "90-day"}}},
        {"data": {"name": "risk"}, "transform": [{"filter": "datum.p == 'B' && datum.g == 'pre-ICU'"}],
         "mark": {"type": "text", "align": "center", "baseline": "middle", "fontSize": 6.1},
         "encoding": {"x": {"field": "t", "type": "quantitative"}, "y": {"datum": 0.048}, "text": {"field": "n"}, "color": {"field": "g", "type": "nominal", "title": "90-day"}}},
        {"data": {"name": "risk"}, "transform": [{"filter": "datum.p == 'B' && datum.g == 'in-ICU'"}],
         "mark": {"type": "text", "align": "center", "baseline": "middle", "fontSize": 6.1},
         "encoding": {"x": {"field": "t", "type": "quantitative"}, "y": {"datum": -0.01}, "text": {"field": "n"}, "color": {"field": "g", "type": "nominal", "title": "90-day"}}},
        {"data": {"name": "panels"}, "transform": [{"filter": "datum.p == 'B'"}],
         "mark": {"type": "text", "align": "center", "baseline": "middle", "fontSize": 9.5, "color": "#111111"},
         "encoding": {"x": {"datum": -2.3}, "y": {"datum": 1.0}, "text": {"field": "tag"}}},
        {"data": {"name": "panels"}, "transform": [{"filter": "datum.p == 'B'"}],
         "mark": {"type": "text", "align": "left", "baseline": "middle", "fontSize": 6, "color": "#111111"},
         "encoding": {"x": {"datum": 0}, "y": {"datum": 0.7}, "text": {"field": "lr"}}}
      ]
    },
    {
      "width": 363, "height": 159,
      "layer": [
        {"data": {"name": "km"}, "transform": [{"filter": "datum.p == 'C'"}],
         "mark": {"type": "area", "interpolate": "step-after", "opacity": 0.3},
         "encoding": {
           "x": {"field": "t", "type": "quantitative", "scale": {"domain": [-9, 189], "nice": false, "zero": false}, "axis": {"values": [0, 60, 120, 180], "title": "Time/days"}},
           "y": {"field": "lo", "type": "quantitative", "scale": {"domain": [-0.05, 1.05], "nice": false, "zero": false}, "axis": {"values": [0, 0.2, 0.4, 0.6, 0.8, 1], "tickCount": 6, "labelOverlap": false, "format": ".1f", "title": "Survival probability"}},
           "y2": {"field": "hi"},
           "color": {"field": "g", "type": "nominal", "title": "180-day", "legend": {"legendX": 128, "legendY": -12}}
         }},
        {"data": {"name": "km"}, "transform": [{"filter": "datum.p == 'C'"}],
         "mark": {"type": "line", "interpolate": "step-after", "strokeWidth": 1.2},
         "encoding": {
           "x": {"field": "t", "type": "quantitative"},
           "y": {"field": "s", "type": "quantitative"},
           "color": {"field": "g", "type": "nominal", "title": "180-day"}
         }},
        {"data": {"name": "panels"}, "transform": [{"filter": "datum.p == 'C'"}],
         "mark": {"type": "rule", "strokeDash": [2, 2], "color": "#333333", "strokeWidth": 0.9},
         "encoding": {"y": {"datum": 0.2}}},
        {"data": {"name": "panels"}, "transform": [{"filter": "datum.p == 'C'"}],
         "mark": {"type": "text", "align": "left", "baseline": "middle", "fontSize": 6, "color": "#222222"},
         "encoding": {"x": {"datum": 0}, "y": {"datum": 0.148}, "text": {"field": "head"}}},
        {"data": {"name": "risk"}, "transform": [{"filter": "datum.p == 'C' && datum.g == 'non-statin'"}],
         "mark": {"type": "text", "align": "center", "baseline": "middle", "fontSize": 6.1},
         "encoding": {"x": {"field": "t", "type": "quantitative"}, "y": {"datum": 0.106}, "text": {"field": "n"}, "color": {"field": "g", "type": "nominal", "title": "180-day"}}},
        {"data": {"name": "risk"}, "transform": [{"filter": "datum.p == 'C' && datum.g == 'pre-ICU'"}],
         "mark": {"type": "text", "align": "center", "baseline": "middle", "fontSize": 6.1},
         "encoding": {"x": {"field": "t", "type": "quantitative"}, "y": {"datum": 0.048}, "text": {"field": "n"}, "color": {"field": "g", "type": "nominal", "title": "180-day"}}},
        {"data": {"name": "risk"}, "transform": [{"filter": "datum.p == 'C' && datum.g == 'in-ICU'"}],
         "mark": {"type": "text", "align": "center", "baseline": "middle", "fontSize": 6.1},
         "encoding": {"x": {"field": "t", "type": "quantitative"}, "y": {"datum": -0.01}, "text": {"field": "n"}, "color": {"field": "g", "type": "nominal", "title": "180-day"}}},
        {"data": {"name": "panels"}, "transform": [{"filter": "datum.p == 'C'"}],
         "mark": {"type": "text", "align": "center", "baseline": "middle", "fontSize": 9.5, "color": "#111111"},
         "encoding": {"x": {"datum": -4.5}, "y": {"datum": 1.0}, "text": {"field": "tag"}}},
        {"data": {"name": "panels"}, "transform": [{"filter": "datum.p == 'C'"}],
         "mark": {"type": "text", "align": "left", "baseline": "middle", "fontSize": 6, "color": "#111111"},
         "encoding": {"x": {"datum": 0}, "y": {"datum": 0.7}, "text": {"field": "lr"}}}
      ]
    },
    {
      "width": 363, "height": 159,
      "layer": [
        {"data": {"name": "km"}, "transform": [{"filter": "datum.p == 'D'"}],
         "mark": {"type": "area", "interpolate": "step-after", "opacity": 0.3},
         "encoding": {
           "x": {"field": "t", "type": "quantitative", "scale": {"domain": [-18.25, 383.25], "nice": false, "zero": false}, "axis": {"values": [0, 90, 180, 270, 365], "title": "Time/days"}},
           "y": {"field": "lo", "type": "quantitative", "scale": {"domain": [-0.05, 1.05], "nice": false, "zero": false}, "axis": {"values": [0, 0.2, 0.4, 0.6, 0.8, 1], "tickCount": 6, "labelOverlap": false, "format": ".1f", "title": "Survival probability"}},
           "y2": {"field": "hi"},
           "color": {"field": "g", "type": "nominal", "title": "365-day", "legend": {"legendX": 126, "legendY": -12}}
         }},
        {"data": {"name": "km"}, "transform": [{"filter": "datum.p == 'D'"}],
         "mark": {"type": "line", "interpolate": "step-after", "strokeWidth": 1.2},
         "encoding": {
           "x": {"field": "t", "type": "quantitative"},
           "y": {"field": "s", "type": "quantitative"},
           "color": {"field": "g", "type": "nominal", "title": "365-day"}
         }},
        {"data": {"name": "panels"}, "transform": [{"filter": "datum.p == 'D'"}],
         "mark": {"type": "rule", "strokeDash": [2, 2], "color": "#333333", "strokeWidth": 0.9},
         "encoding": {"y": {"datum": 0.2}}},
        {"data": {"name": "panels"}, "transform": [{"filter": "datum.p == 'D'"}],
         "mark": {"type": "text", "align": "left", "baseline": "middle", "fontSize": 6, "color": "#222222"},
         "encoding": {"x": {"datum": 0}, "y": {"datum": 0.148}, "text": {"field": "head"}}},
        {"data": {"name": "risk"}, "transform": [{"filter": "datum.p == 'D' && datum.g == 'non-statin'"}],
         "mark": {"type": "text", "align": "center", "baseline": "middle", "fontSize": 6.1},
         "encoding": {"x": {"field": "t", "type": "quantitative"}, "y": {"datum": 0.106}, "text": {"field": "n"}, "color": {"field": "g", "type": "nominal", "title": "365-day"}}},
        {"data": {"name": "risk"}, "transform": [{"filter": "datum.p == 'D' && datum.g == 'pre-ICU'"}],
         "mark": {"type": "text", "align": "center", "baseline": "middle", "fontSize": 6.1},
         "encoding": {"x": {"field": "t", "type": "quantitative"}, "y": {"datum": 0.048}, "text": {"field": "n"}, "color": {"field": "g", "type": "nominal", "title": "365-day"}}},
        {"data": {"name": "risk"}, "transform": [{"filter": "datum.p == 'D' && datum.g == 'in-ICU'"}],
         "mark": {"type": "text", "align": "center", "baseline": "middle", "fontSize": 6.1},
         "encoding": {"x": {"field": "t", "type": "quantitative"}, "y": {"datum": -0.01}, "text": {"field": "n"}, "color": {"field": "g", "type": "nominal", "title": "365-day"}}},
        {"data": {"name": "panels"}, "transform": [{"filter": "datum.p == 'D'"}],
         "mark": {"type": "text", "align": "center", "baseline": "middle", "fontSize": 9.5, "color": "#111111"},
         "encoding": {"x": {"datum": -9}, "y": {"datum": 1.0}, "text": {"field": "tag"}}},
        {"data": {"name": "panels"}, "transform": [{"filter": "datum.p == 'D'"}],
         "mark": {"type": "text", "align": "left", "baseline": "middle", "fontSize": 6, "color": "#111111"},
         "encoding": {"x": {"datum": 0}, "y": {"datum": 0.7}, "text": {"field": "lr"}}}
      ]
    }
  ]
}
